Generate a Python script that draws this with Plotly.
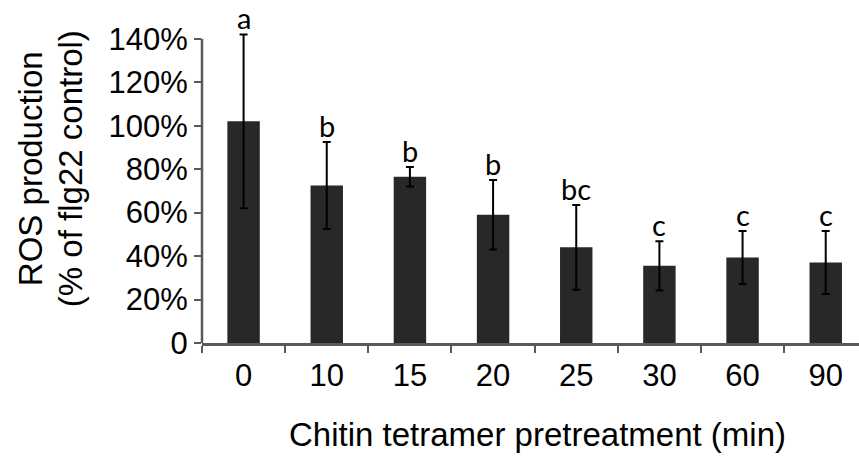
import plotly.graph_objects as go

categories = ["0", "10", "15", "20", "25", "30", "60", "90"]
means = [102, 72.5, 76.5, 59, 44, 35.5, 39.3, 37]
errors = [40, 20, 4.5, 16, 19.5, 11.3, 12.2, 14.5]
letters = ["a", "b", "b", "b", "bc", "c", "c", "c"]
y_tickvals = [0, 20, 40, 60, 80, 100, 120, 140]
y_ticktext = ["0", "20%", "40%", "60%", "80%", "100%", "120%", "140%"]

AXIS_COLOR = "#595959"
FONT = "Liberation Sans, Arial, sans-serif"

fig = go.Figure()
fig.add_trace(go.Bar(
    x=categories, y=means,
    marker=dict(color="#282828", line=dict(width=0)),
    width=0.39,
    error_y=dict(type="data", array=errors, visible=True, color="black", thickness=2, width=4),
))

annotations = []
for i, (m, e, l) in enumerate(zip(means, errors, letters)):
    annotations.append(dict(x=i, y=m + e, text=l, showarrow=False, xanchor="center", yanchor="bottom",
                            yshift=-3, font=dict(family="Lato, Open Sans, sans-serif", size=29, color="black")))

plot_w = 859 - 202
plot_h = 343.3 - 16.5
annotations.append(dict(xref="paper", yref="paper", x=(30 - 202) / plot_w, y=(343.3 - 169) / plot_h,
                        text="ROS production", textangle=-90, showarrow=False, xanchor="center", yanchor="middle",
                        font=dict(family=FONT, size=33, color="black")))
annotations.append(dict(xref="paper", yref="paper", x=(70 - 202) / plot_w, y=(343.3 - 169) / plot_h,
                        text="(% of flg22 control)", textangle=-90, showarrow=False, xanchor="center", yanchor="middle",
                        font=dict(family=FONT, size=33, color="black")))
annotations.append(dict(xref="paper", yref="paper", x=(537.5 - 202) / plot_w, y=(343.3 - 435) / plot_h,
                        text="Chitin tetramer pretreatment (min)", showarrow=False, xanchor="center", yanchor="middle",
                        font=dict(family=FONT, size=33, color="black")))

fig.update_layout(
    width=859, height=456,
    margin=dict(l=202, r=0, t=16.5, b=456 - 343.3, pad=0),
    plot_bgcolor="white", paper_bgcolor="white",
    showlegend=False,
    annotations=annotations,
    shapes=[dict(type="line", xref="paper", yref="y", x0=0, x1=0, y0=0, y1=140,
                 line=dict(color=AXIS_COLOR, width=2.5))],
    xaxis=dict(
        type="category", range=[-0.5, 7.4],
        showline=True, linecolor=AXIS_COLOR, linewidth=2.5,
        ticks="outside", tickson="boundaries", ticklen=7, tickwidth=2, tickcolor=AXIS_COLOR,
        tickfont=dict(family=FONT, size=31, color="black"),
        ticklabelstandoff=3,
        showgrid=False, zeroline=False,
    ),
    yaxis=dict(
        range=[0, 150], showline=False,
        tickvals=y_tickvals, ticktext=y_ticktext,
        ticks="outside", ticklen=7, tickwidth=2, tickcolor=AXIS_COLOR,
        tickfont=dict(family=FONT, size=31, color="black"),
        showgrid=False, zeroline=False,
    ),
)

fig.write_html("out.html")
